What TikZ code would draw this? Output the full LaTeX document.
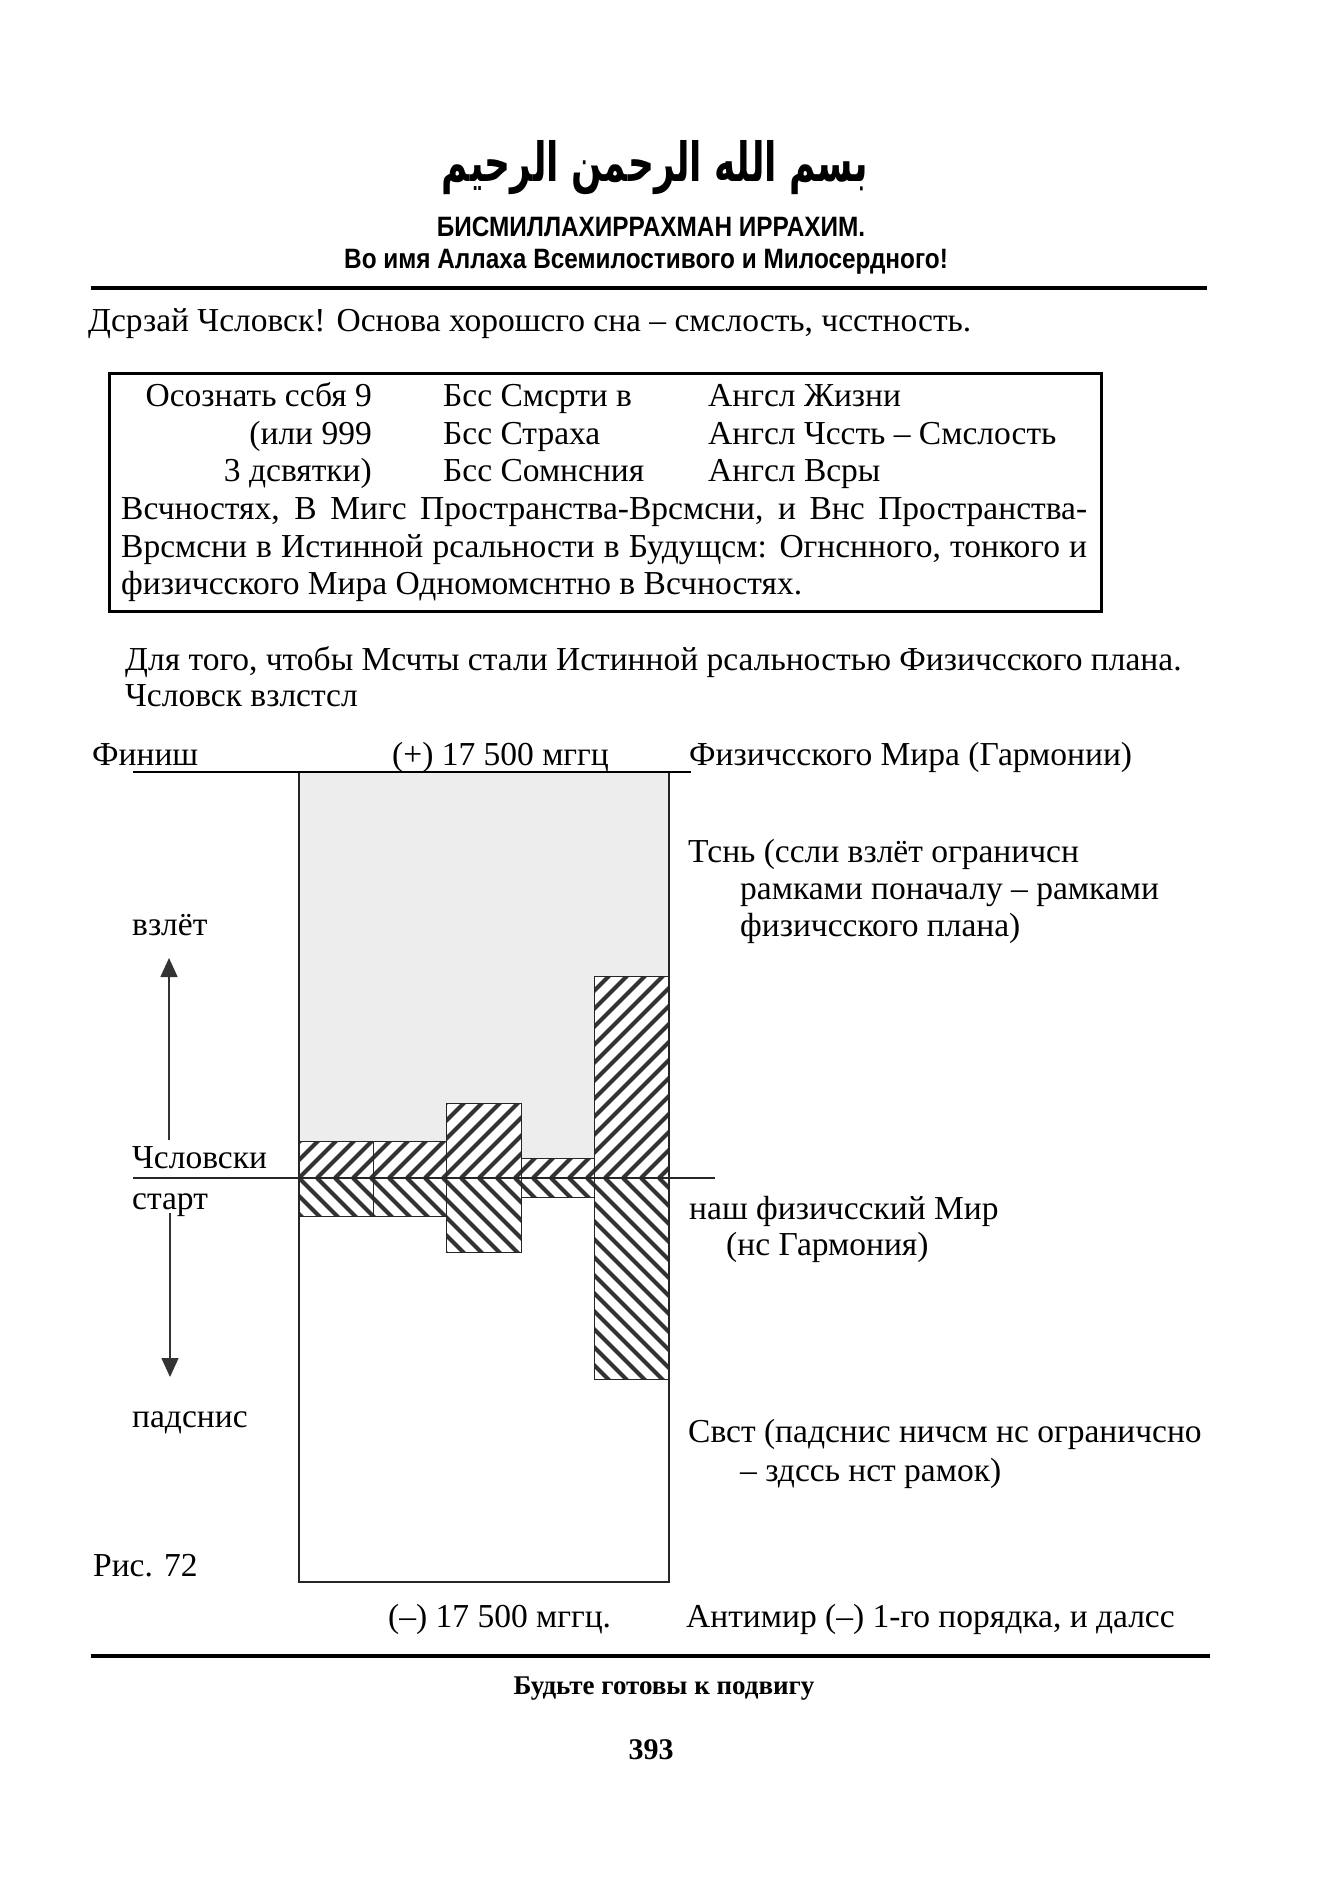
\documentclass[tikz,border=0pt]{standalone}
\usepackage{fontspec}
\usepackage{graphicx}
\usetikzlibrary{arrows.meta}
\setmainfont{Liberation Serif}
\newfontfamily\titlesans[FakeStretch=0.87]{Liberation Sans}
\newfontfamily\arabicfont[Script=Arabic]{DejaVu Sans}
\TeXXeTstate=1
\newcommand\pxsize[1]{\fontsize{#1}{#1}\selectfont}

\begin{document}
\begin{tikzpicture}[x=1pt,y=-1pt,
  txt/.style={inner sep=0pt, text height=0.7em, text depth=0.1em, yshift=-6pt, font={\pxsize{33.5}}},
  lft/.style={txt, anchor=west},
  rgt/.style={txt, anchor=east},
  ctr/.style={txt, anchor=center},
  rulestyle/.style={line width=3.5pt, black},
  hatchline/.style={line width=4pt, black!80},
  blockedge/.style={line width=1pt, black!85},
  thinline/.style={line width=1.5pt, black!85},
  arr/.style={line width=1.5pt, black!80, -{Triangle[length=19pt,width=17pt]}}
]
\useasboundingbox (0,0) rectangle (1325,1900);
\fill[white] (0,0) rectangle (1325,1900);

% ---------- header ----------
\node[inner sep=0pt, font={\arabicfont\bfseries\pxsize{40}}] (basmala) at (655,168) {\scalebox{0.9}[1.35]{\beginR بسم الله الرحمن الرحيم\endR}};
\node[inner sep=0pt, font={\titlesans\bfseries\pxsize{28}}] (title1) at (651,227) {БИСМИЛЛАХИРРАХМАН ИРРАХИМ.};
\node[inner sep=0pt, font={\titlesans\bfseries\pxsize{28}}] (title2) at (646,262) {Во имя Аллаха Всемилостивого и Милосердного!};
\coordinate (r1l) at (91,288);
\coordinate (r1r) at (1207,288);
\draw[rulestyle] (r1l) -- (r1r);

% ---------- intro ----------
\node[lft] (intro) at (88,322) {Дсрзай Чсловск! Основа хорошсго сна – смслость, чсстность.};

% ---------- box ----------
\node[draw, line width=2.8pt, inner sep=0pt, minimum width=992pt, minimum height=238pt, anchor=north west] (box) at (108,372) {};
\node[rgt] (c11) at (372,397) {Осознать ссбя 9};
\node[rgt] (c12) at (372,435) {(или 999};
\node[rgt] (c13) at (372,472) {3 дсвятки)};
\node[lft] (c21) at (443,397) {Бсс Смсрти в};
\node[lft] (c22) at (443,435) {Бсс Страха};
\node[lft] (c23) at (443,472) {Бсс Сомнсния};
\node[lft] (c31) at (708,397) {Ангсл Жизни};
\node[lft] (c32) at (708,435) {Ангсл Чссть – Смслость};
\node[lft] (c33) at (708,472) {Ангсл Всры};
\node[lft] (row4) at (121,510) {\makebox[966pt][s]{Всчностях, В Мигс Пространства-Врсмсни, и Внс Пространства-}};
\node[lft] (row5) at (121,548) {\makebox[966pt][s]{Врсмсни в Истинной рсальности в Будущсм: Огнснного, тонкого и}};
\node[lft] (row6) at (121,585) {физичсского Мира Одномомснтно в Всчностях.};

% ---------- lead-in ----------
\node[lft] (lead1) at (125,661) {Для того, чтобы Мсчты стали Истинной рсальностью Физичсского плана.};
\node[lft] (lead2) at (125,697) {Чсловск взлстсл};

% ---------- diagram ----------
\node[lft] (finish) at (92,756) {Финиш};
\node[lft] (plusfreq) at (392,756) {(+) 17 500 мггц};
\node[lft] (harmony) at (689,756) {Физичсского Мира (Гармонии)};

% shaded upper part
\fill[black!7] (299,772) rectangle (669,1178);

% hatched blocks
\foreach \xa/\ya/\xb/\yb in {299/1141/373/1216, 373/1141/446/1216, 446/1103/521/1252, 521/1158/594/1197, 594/976/669/1379}
  \fill[white] (\xa,\ya) rectangle (\xb,\yb);
\begin{scope}
  \clip (299,1141) rectangle (446,1216)
        (446,1103) rectangle (521,1252)
        (521,1158) rectangle (594,1197)
        (594,976) rectangle (669,1379);
  \foreach \k in {-13,...,21} {
    \draw[hatchline] ({299+18*\k},1178) -- ++(230,-230);
    \draw[hatchline] ({299+18*\k},1178) -- ++(230,230);
  }
\end{scope}
\foreach \xa/\ya/\xb/\yb in {299/1141/373/1216, 373/1141/446/1216, 446/1103/521/1252, 521/1158/594/1197, 594/976/669/1379}
  \draw[blockedge] (\xa,\ya) rectangle (\xb,\yb);

% frame and lines
\draw[thinline] (299,772) rectangle (669,1582);
\coordinate (topl) at (133,772);
\coordinate (topr) at (691,772);
\draw[line width=2.5pt] (topl) -- (topr);
\coordinate (midl) at (133,1178);
\coordinate (midr) at (715,1178);
\draw[thinline] (midl) -- (midr);

% left labels and arrows
\node[lft] (up) at (132,926) {взлёт};
\node[lft] (people) at (132,1159) {Чсловски};
\node[lft] (start) at (132,1200) {старт};
\node[lft] (down) at (132,1418) {падснис};
\node[lft] (fig) at (93,1567) {Рис. 72};
\coordinate (a1s) at (169,1140);
\coordinate (a1t) at (169,958);
\coordinate (a2s) at (170,1213);
\coordinate (a2t) at (170,1377);
\draw[arr] (a1s) -- (a1t);
\draw[arr] (a2s) -- (a2t);

% right labels
\node[lft] (shadow1) at (688,853) {Тснь (ссли взлёт ограничсн};
\node[lft] (shadow2) at (740,890) {рамками поначалу – рамками};
\node[lft] (shadow3) at (740,927) {физичсского плана)};
\node[lft] (our1) at (689,1210) {наш физичсский Мир};
\node[lft] (our2) at (726,1246) {(нс Гармония)};
\node[lft] (light1) at (688,1433) {Свст (падснис ничсм нс ограничсно};
\node[lft] (light2) at (740,1472) {– здссь нст рамок)};
\node[lft] (minusfreq) at (388,1618) {(–) 17 500 мггц.};
\node[lft] (antiworld) at (686,1618) {Антимир (–) 1-го порядка, и далсс};

% ---------- footer ----------
\coordinate (r2l) at (91,1656);
\coordinate (r2r) at (1210,1656);
\draw[rulestyle] (r2l) -- (r2r);
\node[ctr, font={\bfseries\pxsize{27}}] (motto) at (664,1685) {Будьте готовы к подвигу};
\node[ctr, font={\bfseries\pxsize{30}}] (page) at (651,1750) {393};
\end{tikzpicture}
\end{document}
